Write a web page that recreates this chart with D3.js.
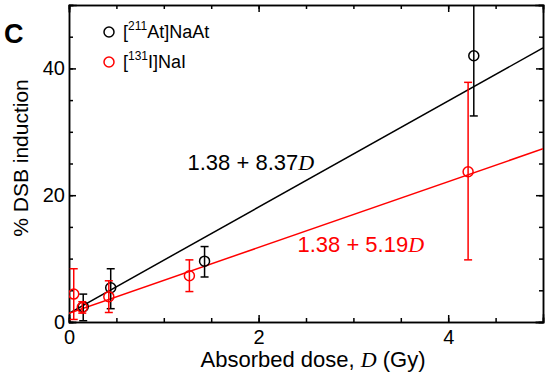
<!DOCTYPE html>
<html>
<head>
<meta charset="utf-8">
<script src="https://cdn.jsdelivr.net/npm/d3@7"></script>
<style>
  body { margin: 0; background: #fff; }
  text { font-family: "Liberation Sans", Arial, sans-serif; }
  .axis path, .axis line { stroke: #000; stroke-width: 1.5; }
  .axis text { font-size: 20px; fill: #000; font-family: "Liberation Sans", Arial, sans-serif; }
</style>
</head>
<body>
<div id="app"></div>
<script>
// [211At]NaAt
const atDose = [0.15, 0.44, 1.43, 4.27]
    , atDsb = [2.4, 5.4, 9.6, 42.0]
    , atHi = [4.4, 8.4, 11.9, 52]
    , atLo = [0.2, 2.1, 7.1, 32.5];

// [131I]NaI
const iDose = [0.05, 0.14, 0.42, 1.27, 4.21]
    , iDsb = [4.4, 2.3, 4.0, 7.3, 23.7]
    , iHi = [8.4, 3.2, 6.5, 9.8, 37.8]
    , iLo = [0.4, 1.4, 1.5, 4.8, 9.8];

// fitted lines: intercept, slope
const fits = [
  { a: 1.38, b: 8.37, color: "#000", label: "1.38 + 8.37", lx: 1.25, ly: 24.0 },
  { a: 1.38, b: 5.19, color: "#f00", label: "1.38 + 5.19", lx: 2.41, ly: 11.0 }
];

const xMajor = [0, 2, 4], yMajor = [0, 20, 40];

const width = 550, height = 381;
const margin = { left: 69, right: 7, top: 5, bottom: 59 };
const W = width - margin.left - margin.right
    , H = height - margin.top - margin.bottom;

const svg = d3.select("#app").append("svg")
    .attr("width", width)
    .attr("height", height);

const x = d3.scaleLinear().domain([0, 5]).range([0, W]);
const y = d3.scaleLinear().domain([0, 50]).range([H, 0]);

const g = svg.append("g")
    .attr("transform", `translate(${margin.left},${margin.top})`);

svg.append("defs").append("clipPath").attr("id", "clip")
  .append("rect").attr("width", W).attr("height", H);

const xMinor = d3.range(0, 5.01, 0.5), yMinor = d3.range(0, 50.1, 5);

// axes (inward ticks on all four sides)
g.append("g").attr("class", "axis").attr("transform", `translate(0,${H})`)
    .call(d3.axisBottom(x).tickValues(xMinor).tickSize(-4).tickFormat(""));
g.append("g").attr("class", "axis").attr("transform", `translate(0,${H})`)
    .call(d3.axisBottom(x).tickValues(xMajor).tickSize(-7).tickPadding(8).tickFormat(d3.format("d")));
g.append("g").attr("class", "axis")
    .call(d3.axisTop(x).tickValues(xMinor).tickSize(-4).tickFormat(""));
g.append("g").attr("class", "axis")
    .call(d3.axisTop(x).tickValues(xMajor).tickSize(-7).tickFormat(""));

g.append("g").attr("class", "axis")
    .call(d3.axisLeft(y).tickValues(yMinor).tickSize(-4).tickFormat(""));
g.append("g").attr("class", "axis")
    .call(d3.axisLeft(y).tickValues(yMajor).tickSize(-7).tickPadding(4).tickFormat(d3.format("d")));
g.append("g").attr("class", "axis").attr("transform", `translate(${W},0)`)
    .call(d3.axisRight(y).tickValues(yMinor).tickSize(-4).tickFormat(""));
g.append("g").attr("class", "axis").attr("transform", `translate(${W},0)`)
    .call(d3.axisRight(y).tickValues(yMajor).tickSize(-7).tickFormat(""));

g.selectAll(".axis .domain").attr("stroke-linecap", "square");

// fit lines
const plot = g.append("g").attr("clip-path", "url(#clip)");
plot.selectAll(".fit")
    .data(fits)
  .enter().append("line")
    .attr("x1", x(0)).attr("x2", x(5))
    .attr("y1", d => y(d.a)).attr("y2", d => y(d.a + d.b * 5))
    .attr("stroke", d => d.color)
    .attr("stroke-width", 1.5);

// error bars + markers
function series(dose, val, hi, lo, color) {
  const pts = dose.map((d, i) => ({ d, v: val[i], hi: hi[i], lo: lo[i] }));
  const s = plot.append("g").attr("stroke", color).attr("stroke-width", 1.5).attr("fill", "none");
  s.selectAll(".eb").data(pts).enter().append("line")
      .attr("x1", p => x(p.d)).attr("x2", p => x(p.d))
      .attr("y1", p => y(p.lo)).attr("y2", p => y(p.hi));
  s.selectAll(".capT").data(pts).enter().append("line")
      .attr("x1", p => x(p.d) - 4).attr("x2", p => x(p.d) + 4)
      .attr("y1", p => y(p.hi)).attr("y2", p => y(p.hi));
  s.selectAll(".capB").data(pts).enter().append("line")
      .attr("x1", p => x(p.d) - 4).attr("x2", p => x(p.d) + 4)
      .attr("y1", p => y(p.lo)).attr("y2", p => y(p.lo));
  s.selectAll("circle").data(pts).enter().append("circle")
      .attr("cx", p => x(p.d)).attr("cy", p => y(p.v)).attr("r", 5);
}
series(atDose, atDsb, atHi, atLo, "#000");
series(iDose, iDsb, iHi, iLo, "#f00");

// equation labels
const eq = g.selectAll(".eq")
    .data(fits)
  .enter().append("text")
    .attr("x", d => x(d.lx)).attr("y", d => y(d.ly))
    .attr("fill", d => d.color)
    .style("font-size", "22px");
eq.append("tspan").text(d => d.label);
eq.append("tspan").text("D")
    .style("font-family", "'Liberation Serif', serif")
    .style("font-style", "italic");

// legend
const legend = [
  { mass: "211", name: "At]NaAt", color: "#000" },
  { mass: "131", name: "I]NaI", color: "#f00" }
];
const lg = g.selectAll(".leg").data(legend).enter().append("g")
    .attr("transform", (d, i) => `translate(40,${27 + i * 30})`);
lg.append("circle").attr("r", 5).attr("fill", "none")
    .attr("stroke", d => d.color).attr("stroke-width", 1.5);
const lt = lg.append("text").attr("x", 14).attr("y", 6).style("font-size", "18px").attr("fill", "#000");
lt.append("tspan").text("[");
lt.append("tspan").attr("dy", -8).style("font-size", "12px").text(d => d.mass);
lt.append("tspan").attr("dy", 8).text(d => d.name);

// panel letter
svg.append("text").attr("x", 4).attr("y", 43)
    .style("font-size", "27px").style("font-weight", "bold").text("C");

// axis titles
svg.append("text")
    .attr("transform", "translate(28,158) rotate(-90)")
    .attr("text-anchor", "middle").style("font-size", "21px")
    .text("% DSB induction");

const xt = svg.append("text")
    .attr("x", 313).attr("y", 367)
    .attr("text-anchor", "middle").style("font-size", "22px");
xt.append("tspan").text("Absorbed dose, ");
xt.append("tspan").text("D").style("font-family", "'Liberation Serif', serif")
    .style("font-style", "italic");
xt.append("tspan").text(" (Gy)");
</script>
</body>
</html>
